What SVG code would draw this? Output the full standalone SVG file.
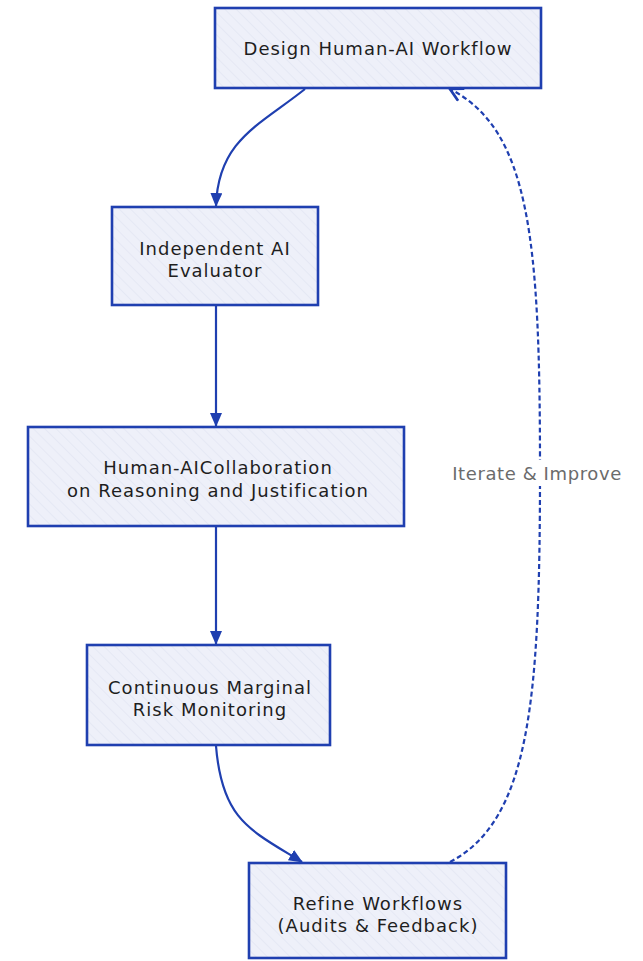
<svg xmlns="http://www.w3.org/2000/svg" width="643" height="961" viewBox="0 0 643 961">
<defs>
<pattern id="hatch" width="8" height="8" patternUnits="userSpaceOnUse" patternTransform="rotate(-45)">
<rect width="8" height="8" fill="#eef0f9"/>
<line x1="0" y1="0" x2="0" y2="8" stroke="#dde1f0" stroke-width="1"/>
</pattern>
<marker id="arr" viewBox="0 0 14 12" refX="13" refY="6" markerWidth="14" markerHeight="12" orient="auto" markerUnits="userSpaceOnUse">
<path d="M0,0 L14,6 L0,12 Z" fill="#1f3fb0"/>
</marker>
<marker id="arrOpen" viewBox="0 0 14 14" refX="12" refY="7" markerWidth="16" markerHeight="16" orient="auto" markerUnits="userSpaceOnUse">
<path d="M1,1 L12,7 L1,13" fill="none" stroke="#1f3fb0" stroke-width="2.4"/>
</marker>
</defs>
<style>
.node rect{fill:url(#hatch);stroke:#1f3fb0;stroke-width:2.6}
.node text{font-family:"DejaVu Sans","Liberation Sans",sans-serif;font-size:18px;letter-spacing:1px;fill:#1e1e1e;text-anchor:middle}
.edge{fill:none;stroke:#1f3fb0;stroke-width:2.2}
.dash{stroke-dasharray:5 3}
.lbl{font-family:"DejaVu Sans","Liberation Sans",sans-serif;font-size:18px;letter-spacing:0.6px;fill:#6b6b6b;text-anchor:middle}
</style>
<rect width="643" height="961" fill="#ffffff"/>
<g id="connectors">
<path class="edge" d="M305,89 C260,125 218,140 216,206" marker-end="url(#arr)"/>
<path class="edge" d="M216,306 L216,426" marker-end="url(#arr)"/>
<path class="edge" d="M216,527 L216,644" marker-end="url(#arr)"/>
<path class="edge" d="M216,746 C222,820 250,830 302,862" marker-end="url(#arr)"/>
<path class="edge dash" d="M450,862 C530,820 540,700 540,470 C540,240 530,130 450,89" marker-end="url(#arrOpen)"/>
<rect x="446" y="460" width="182" height="26" fill="#ffffff"/>
<text class="lbl" x="537" y="480">Iterate &amp; Improve</text>
</g>
<g id="n1" class="node">
<rect x="215" y="8" width="326" height="80"/>
<text x="378" y="55">Design Human-AI Workflow</text>
</g>
<g id="n2" class="node">
<rect x="112" y="207" width="206" height="98"/>
<text x="215" y="255">Independent AI</text>
<text x="215" y="277">Evaluator</text>
</g>
<g id="n3" class="node">
<rect x="28" y="427" width="376" height="99"/>
<text x="218" y="474">Human-AICollaboration</text>
<text x="218" y="497">on Reasoning and Justification</text>
</g>
<g id="n4" class="node">
<rect x="87" y="645" width="243" height="100"/>
<text x="210" y="694">Continuous Marginal</text>
<text x="210" y="716">Risk Monitoring</text>
</g>
<g id="n5" class="node">
<rect x="249" y="863" width="257" height="95"/>
<text x="378" y="910">Refine Workflows</text>
<text x="378" y="932">(Audits &amp; Feedback)</text>
</g>
</svg>
